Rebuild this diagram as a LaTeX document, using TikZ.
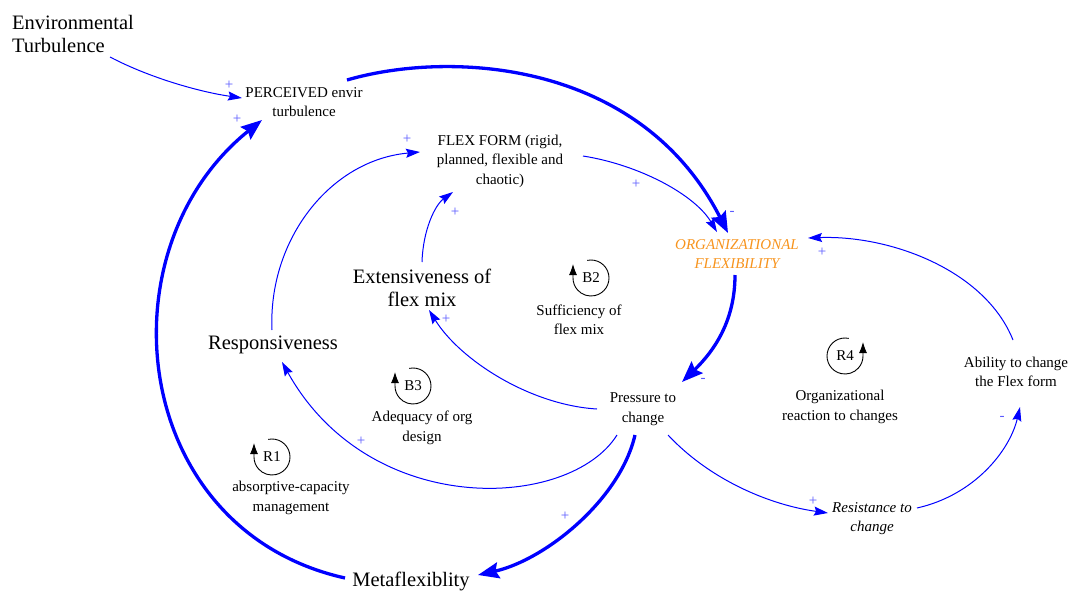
\documentclass[tikz,border=0pt]{standalone}
\usepackage{fontspec}
\setmainfont{Liberation Serif}
\usetikzlibrary{arrows.meta,calc}
\definecolor{lnk}{RGB}{0,0,255}
\definecolor{pol}{RGB}{90,90,255}
\definecolor{orgc}{RGB}{247,148,30}
\tikzset{
 big/.style={font=\fontsize{20.5}{23.5}\selectfont, align=center, inner sep=2pt},
 small/.style={font=\fontsize{15}{19.5}\selectfont, align=center, inner sep=2pt},
 thinlink/.style={draw=lnk, line width=1pt, -{Stealth[length=14pt,width=9pt,inset=2pt]}},
 thicklink/.style={draw=lnk, line width=3.3pt, -{Stealth[length=21pt,width=16pt,inset=3pt]}},
 polsign/.style={text=pol, font=\fontsize{15}{15}\selectfont, inner sep=0pt},
 looparrow/.style={draw=black, line width=0.9pt, -{Latex[length=11pt,width=8pt]}},
}
\newcommand\cwloop[3]{%
 \node[small] (#1) at (#2) {#3};
 \draw[looparrow] ($(#1)+(258:18)$) arc[start angle=258,end angle=540,radius=18] -- ++(0,-14);
}
\begin{document}
\begin{tikzpicture}[x=1pt,y=-1pt]
\useasboundingbox (0,0) rectangle (1080,595);
% variables
\node[big, align=left] (envt) at (73,34) {Environmental\\Turbulence};
\node[small] (perc) at (304,102) {PERCEIVED envir\\turbulence};
\node[small] (flex) at (500,161) {FLEX FORM (rigid,\\planned, flexible and\\chaotic)};
\node[small, text=orgc, font=\fontsize{15}{19}\selectfont\itshape] (org) at (737,254) {ORGANIZATIONAL\\FLEXIBILITY};
\node[big] (ext) at (422,288) {Extensiveness of\\flex mix};
\node[big] (resp) at (273,345) {Responsiveness};
\node[small] (press) at (643,409) {Pressure to\\change};
\node[small] (abil) at (1016,372) {Ability to change\\the Flex form};
\node[small, font=\fontsize{15}{19}\selectfont\itshape] (resist) at (872,519) {Resistance to\\change};
\node[big] (meta) at (411,581) {Metaflexiblity};
% loops
\cwloop{b2}{591,278}{B2}
\cwloop{b3}{413,386}{B3}
\cwloop{r1}{272,457}{R1}
\node[small] (r4) at (845,356) {R4};
\draw[looparrow] ($(r4)+(-78:18)$) arc[start angle=-78,end angle=-360,radius=18] -- ++(0,-14);
\node[small] (d2) at (579,320) {Sufficiency of\\flex mix};
\node[small] (d3) at (422,428) {Adequacy of org\\design};
\node[small] (d1) at (291,498) {absorptive-capacity\\management};
\node[small] (d4) at (840,407) {Organizational\\reaction to changes};
% links
\draw[thinlink] ($(envt)+(37,23)$) .. controls (150,78) and (200,92) .. ($(perc)+(-62,-4)$);
\draw[thicklink] ($(perc)+(43,-22)$) .. controls (450,50) and (640,60) .. ($(org)+(-9,-21)$);
\draw[thinlink] ($(flex)+(83,-5)$) .. controls (640,165) and (695,195) .. ($(org)+(-20,-22)$);
\draw[thicklink] ($(org)+(-2,21)$) .. controls (735,320) and (715,350) .. ($(press)+(39,-27)$);
\draw[thinlink] ($(abil)+(-3,-32)$) .. controls (985,270) and (890,235) .. ($(org)+(71,-16)$);
\draw[thinlink] ($(press)+(25,26)$) .. controls (710,480) and (770,505) .. ($(resist)+(-44,-6)$);
\draw[thinlink] ($(resist)+(45,-11)$) .. controls (975,495) and (1010,450) .. ($(abil)+(4,35)$);
\draw[thicklink] ($(press)+(-8,26)$) .. controls (620,500) and (545,560) .. ($(meta)+(67,-6)$);
\draw[thicklink] ($(meta)+(-66,-3)$) .. controls (130,530) and (100,250) .. ($(perc)+(-42,18)$);
\draw[thinlink] ($(press)+(-26,26)$) .. controls (570,510) and (370,520) .. ($(resp)+(9,17)$);
\draw[thinlink] ($(resp)+(-1,-15)$) .. controls (268,240) and (330,160) .. ($(flex)+(-80,-9)$);
\draw[thinlink] ($(press)+(-46,0)$) .. controls (530,405) and (460,360) .. ($(ext)+(7,22)$);
\draw[thinlink] ($(ext)+(0,-26)$) .. controls (423,230) and (435,205) .. ($(flex)+(-47,31)$);
% polarities
\node[polsign] (s1) at (229,85) {+};
\node[polsign] (s2) at (237,119) {+};
\node[polsign] (s3) at (407,139) {+};
\node[polsign] (s4) at (455,212) {+};
\node[polsign] (s5) at (636,184) {+};
\node[polsign] (s6) at (732,213) {-};
\node[polsign] (s7) at (822,252) {+};
\node[polsign] (s8) at (446,319) {+};
\node[polsign] (s9) at (703,380) {-};
\node[polsign] (s10) at (361,441) {+};
\node[polsign] (s11) at (565,516) {+};
\node[polsign] (s12) at (813,501) {+};
\node[polsign] (s13) at (1002,418) {-};
\end{tikzpicture}
\end{document}
